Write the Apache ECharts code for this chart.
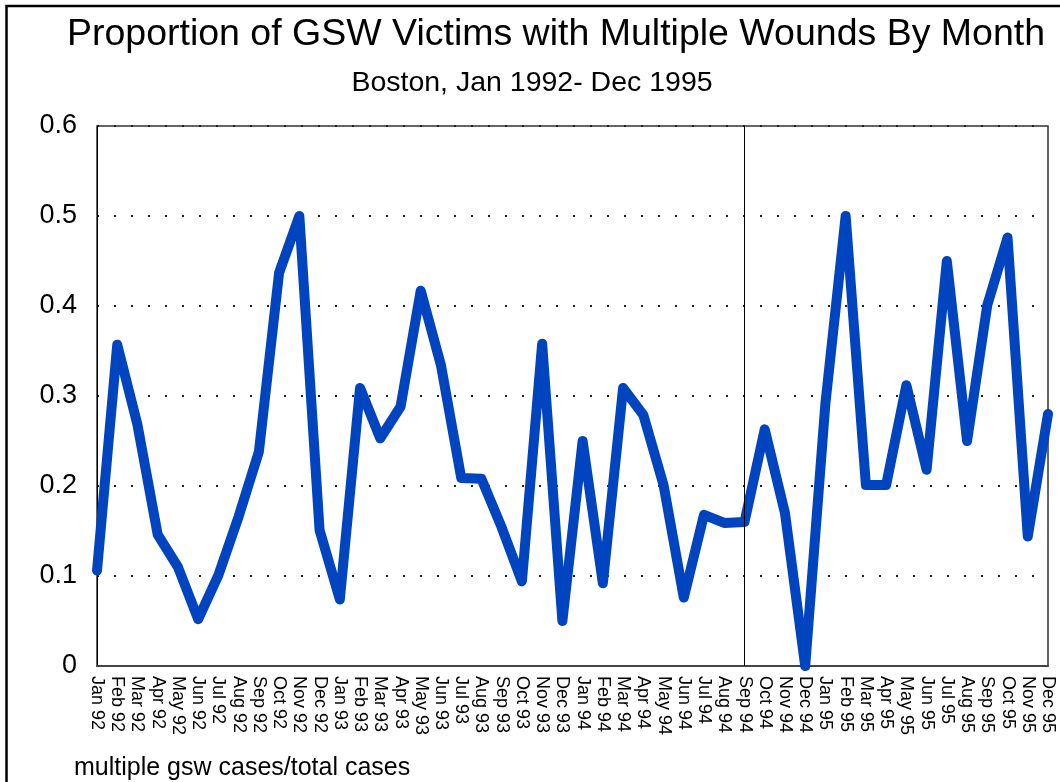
<!DOCTYPE html>
<html>
<head>
<meta charset="utf-8">
<title>Proportion of GSW Victims with Multiple Wounds By Month</title>
<script src="https://cdn.jsdelivr.net/npm/echarts@6/dist/echarts.min.js"></script>
<style>
  html, body { margin: 0; padding: 0; background: #fff; }
  #chart { width: 1060px; height: 782px; }
</style>
</head>
<body>
<div id="chart"></div>
<script>
// Monthly categories, Jan 1992 - Dec 1995
const months = [
  'Jan 92','Feb 92','Mar 92','Apr 92','May 92','Jun 92','Jul 92','Aug 92','Sep 92','Oct 92','Nov 92','Dec 92',
  'Jan 93','Feb 93','Mar 93','Apr 93','May 93','Jun 93','Jul 93','Aug 93','Sep 93','Oct 93','Nov 93','Dec 93',
  'Jan 94','Feb 94','Mar 94','Apr 94','May 94','Jun 94','Jul 94','Aug 94','Sep 94','Oct 94','Nov 94','Dec 94',
  'Jan 95','Feb 95','Mar 95','Apr 95','May 95','Jun 95','Jul 95','Aug 95','Sep 95','Oct 95','Nov 95','Dec 95'
];

// Share of gunshot-wound victims with multiple wounds (multiple gsw cases / total cases)
const proportion = [
  0.106, 0.357, 0.268, 0.146, 0.110, 0.052, 0.101, 0.166, 0.238, 0.437, 0.500, 0.151,
  0.074, 0.309, 0.253, 0.288, 0.417, 0.334, 0.209, 0.208, 0.154, 0.094, 0.358, 0.050,
  0.250, 0.092, 0.309, 0.279, 0.201, 0.076, 0.168, 0.159, 0.160, 0.263, 0.170, 0.000,
  0.292, 0.500, 0.201, 0.201, 0.312, 0.218, 0.450, 0.250, 0.401, 0.476, 0.144, 0.280
];

// Month marked with a vertical reference line
const markerMonth = 'Sep 94';

const FONT = 'Arial, "Liberation Sans", Helvetica, sans-serif';

const chart = echarts.init(document.getElementById('chart'), null, { renderer: 'canvas' });

chart.setOption({
  animation: false,
  backgroundColor: '#ffffff',
  textStyle: { fontFamily: FONT, color: '#000' },
  graphic: [
    {
      type: 'rect',
      shape: { x: 6.5, y: 6, width: 1200, height: 900 },
      style: { fill: 'none', stroke: '#000', lineWidth: 2.5 },
      silent: true
    },
    {
      type: 'text',
      x: 556, y: 35,
      style: {
        text: 'Proportion of GSW Victims with Multiple Wounds By Month',
        font: '37.5px ' + FONT, fill: '#000',
        textAlign: 'center', textVerticalAlign: 'middle'
      }
    },
    {
      type: 'text',
      x: 532, y: 83,
      style: {
        text: 'Boston, Jan 1992- Dec 1995',
        font: '28.5px ' + FONT, fill: '#000',
        textAlign: 'center', textVerticalAlign: 'middle'
      }
    },
    {
      type: 'text',
      x: 74, y: 768,
      style: {
        text: 'multiple gsw cases/total cases',
        font: '25px ' + FONT, fill: '#000',
        textAlign: 'left', textVerticalAlign: 'middle'
      }
    }
  ],
  grid: {
    left: 97, right: 12, top: 126, bottom: 116,
    show: true, borderColor: '#333', borderWidth: 1.5,
    containLabel: false
  },
  xAxis: {
    type: 'category',
    data: months,
    boundaryGap: false,
    axisLine: { show: true, lineStyle: { color: '#444', width: 2 } },
    axisTick: { show: false },
    splitLine: { show: false },
    axisLabel: {
      interval: 0, rotate: -90, margin: 10,
      fontSize: 18, fontFamily: FONT, color: '#000'
    }
  },
  yAxis: {
    type: 'value',
    min: 0, max: 0.6, interval: 0.1,
    axisLine: { show: true, lineStyle: { color: '#000', width: 1 } },
    axisTick: { show: false },
    axisLabel: {
      fontSize: 27, fontFamily: FONT, color: '#000', margin: 20,
      formatter: v => (Math.round(v * 10) / 10).toString()
    },
    splitLine: {
      show: true,
      lineStyle: { color: '#222', width: 2, type: [2, 15] }
    }
  },
  series: [{
    type: 'line',
    data: proportion,
    showSymbol: false,
    lineStyle: { color: '#0044bf', width: 10, cap: 'round', join: 'round' },
    itemStyle: { color: '#0044bf' },
    markLine: {
      silent: true,
      symbol: 'none',
      label: { show: false },
      lineStyle: { color: '#000', width: 1, type: 'solid' },
      data: [{ xAxis: markerMonth }]
    },
    z: 3
  }]
});
</script>
</body>
</html>
